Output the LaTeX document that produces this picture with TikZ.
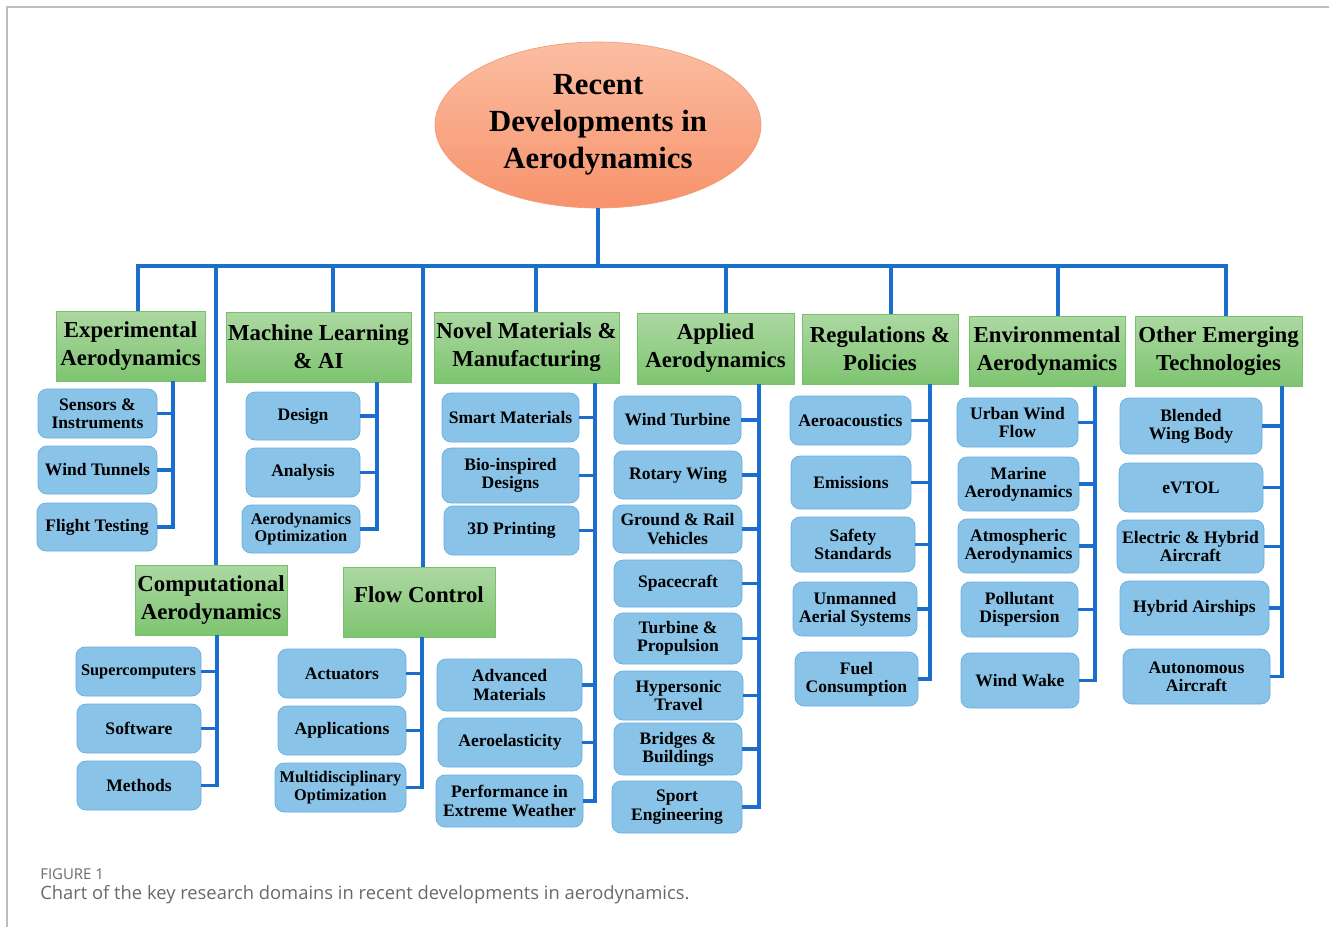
\documentclass[tikz,border=0pt]{standalone}
\usepackage{fontspec}
\setmainfont{Liberation Serif}
\newfontfamily\capfont{Open Sans}
\usetikzlibrary{shapes.geometric}

\definecolor{linkblue}{RGB}{28,110,205}
\definecolor{roottop}{RGB}{251,190,162}
\definecolor{rootbot}{RGB}{247,146,108}
\definecolor{rootline}{RGB}{242,156,118}
\definecolor{topictop}{RGB}{172,216,162}
\definecolor{topicbot}{RGB}{126,196,112}
\definecolor{topicline}{RGB}{118,194,104}
\definecolor{itemfill}{RGB}{137,195,232}
\definecolor{itemline}{RGB}{104,174,226}
\definecolor{framegray}{RGB}{190,190,190}
\definecolor{capgray}{RGB}{105,105,105}

\begin{document}
\begin{tikzpicture}[x=0.02cm, y=-0.02cm,
    root/.style={ellipse, draw=rootline, top color=roottop, bottom color=rootbot,
      inner sep=0pt, minimum width=6.52cm, minimum height=3.32cm, align=center,
      font=\bfseries\fontsize{17.5pt}{21pt}\selectfont},
    topic/.style={rectangle, draw=topicline, top color=topictop, bottom color=topicbot,
      inner sep=0pt, align=center, font=\bfseries\fontsize{13pt}{15.9pt}\selectfont},
    item/.style={rectangle, rounded corners=0.18cm, draw=itemline, fill=itemfill,
      inner sep=0pt, align=center, font=\bfseries\fontsize{10pt}{10.4pt}\selectfont},
    sm/.style={font=\bfseries\fontsize{9.3pt}{9.8pt}\selectfont},
    box/.style 2 args={minimum width=#1*0.02cm, minimum height=#2*0.02cm},
    link/.style={draw=linkblue, line width=2.2pt}]

  \useasboundingbox (0,0) rectangle (1329,927);
  \draw[framegray, line width=1.2pt] (1329,7) -- (7,7) -- (7,927);

  % root
  \node[root] (root) at (598,125) {Recent\\Developments in\\Aerodynamics};

  % research domains
  \node[topic, box={149}{70}] (exp)  at (130.5,346) {Experimental\\Aerodynamics};
  \node[topic, box={185}{70}] (ml)   at (318.5,347) {Machine Learning\\\& AI};
  \node[topic, box={185}{71}] (mat)  at (526.5,347.5) {Novel Materials \&\\Manufacturing};
  \node[topic, box={157}{71}] (app)  at (715.5,348.5) {Applied\\Aerodynamics};
  \node[topic, box={156}{70}] (reg)  at (880,349) {Regulations \&\\Policies};
  \node[topic, box={156}{70}] (env)  at (1047,351) {Environmental\\Aerodynamics};
  \node[topic, box={167}{70}] (oth)  at (1218.5,351) {Other Emerging\\Technologies};
  \node[topic, box={152}{70}] (cmp)  at (211,600) {Computational\\Aerodynamics};
  \node[topic, box={152}{70}, text depth=0.3cm] (flow) at (419,602) {Flow Control};

  % experimental
  \node[item, box={119}{49}] (sens) at (97.5,413.5) {Sensors \&\\Instruments};
  \node[item, box={119}{48}] (tun)  at (97.5,470) {Wind Tunnels};
  \node[item, box={120}{48}] (fly)  at (97,527) {Flight Testing};

  % machine learning
  \node[item, box={114}{48}] (des)  at (303,416) {Design};
  \node[item, box={114}{49}] (ana)  at (303,472.5) {Analysis};
  \node[item, sm, box={118}{48}] (aop) at (301,529) {Aerodynamics\\Optimization};

  % materials
  \node[item, box={137}{49}] (smart)  at (510.5,417.5) {Smart Materials};
  \node[item, box={137}{55}] (bio)    at (510.5,475.5) {Bio-inspired\\Designs};
  \node[item, box={135}{49}] (print)  at (511.5,530.5) {3D Printing};
  \node[item, box={145}{52}] (adv)    at (509.5,685) {Advanced\\Materials};
  \node[item, box={144}{49}] (aeroel) at (510,742.5) {Aeroelasticity};
  \node[item, box={147}{52}] (perf)   at (509.5,801) {Performance in\\Extreme Weather};

  % applied
  \node[item, box={127}{48}] (wt)  at (677.5,420) {Wind Turbine};
  \node[item, box={128}{48}] (rw)  at (678,475) {Rotary Wing};
  \node[item, box={129}{48}] (gr)  at (677.5,529) {Ground \& Rail\\Vehicles};
  \node[item, box={128}{47}] (sc)  at (678,583.5) {Spacecraft};
  \node[item, box={128}{51}] (tp)  at (678,638.5) {Turbine \&\\Propulsion};
  \node[item, box={129}{49}] (hyp) at (678.5,695.5) {Hypersonic\\Travel};
  \node[item, box={128}{52}] (brd) at (678,749) {Bridges \&\\Buildings};
  \node[item, box={130}{52}] (spt) at (677,807) {Sport\\Engineering};

  % regulations
  \node[item, box={121}{49}] (ac)   at (850.5,420.5) {Aeroacoustics};
  \node[item, box={120}{53}] (em)   at (851,482.5) {Emissions};
  \node[item, box={124}{55}] (saf)  at (853,544.5) {Safety\\Standards};
  \node[item, box={124}{54}] (uas)  at (855,609) {Unmanned\\Aerial Systems};
  \node[item, box={123}{54}] (fuel) at (856.5,679) {Fuel\\Consumption};

  % environmental
  \node[item, box={121}{49}] (urb)  at (1017.5,422.5) {Urban Wind\\Flow};
  \node[item, box={121}{54}] (mar)  at (1018.5,484) {Marine\\Aerodynamics};
  \node[item, box={121}{54}] (atm)  at (1018.5,546) {Atmospheric\\Aerodynamics};
  \node[item, box={117}{55}] (pol)  at (1019.5,609.5) {Pollutant\\Dispersion};
  \node[item, box={118}{55}] (wake) at (1020,680.5) {Wind Wake};

  % emerging
  \node[item, box={142}{56}] (bwb) at (1191,426) {Blended\\Wing Body};
  \node[item, box={144}{49}] (evt) at (1191,487.5) {eVTOL};
  \node[item, box={147}{53}] (ehy) at (1190.5,546.5) {Electric \& Hybrid\\Aircraft};
  \node[item, box={149}{54}] (ha)  at (1194.5,608) {Hybrid Airships};
  \node[item, box={147}{55}] (aut) at (1196.5,676.5) {Autonomous\\Aircraft};

  % computational
  \node[item, sm, box={125}{49}] (sup) at (138.5,671.5) {Supercomputers};
  \node[item, box={124}{49}] (sw)  at (139,728.5) {Software};
  \node[item, box={124}{49}] (met) at (139,785.5) {Methods};

  % flow control
  \node[item, box={128}{49}] (act)  at (342,673.5) {Actuators};
  \node[item, box={128}{49}] (appl) at (342,730.5) {Applications};
  \node[item, sm, box={131}{49}] (mdo) at (340.5,787.5) {Multidisciplinary\\Optimization};

  % trunk and bar
  \coordinate (bar) at (598,266);
  \draw[link] (root.south) -- (root.south |- bar);
  \draw[link] (138,0 |- exp.north) |- (bar) -| (1226,0 |- oth.north);
  \foreach \n/\x in {cmp/216, ml/333, flow/423, mat/536, app/726, reg/891, env/1058}
    \draw[link] (\x,0 |- bar) -- (\x,0 |- \n.north);

  % spines
  \draw[link] (173,0 |- exp.south) |- (fly.east);
  \foreach \n in {sens, tun}
    \draw[link] (\n.east) -- (173,0 |- \n.east);
  \draw[link] (377,0 |- ml.south) |- (aop.east);
  \foreach \n in {des, ana}
    \draw[link] (\n.east) -- (377,0 |- \n.east);
  \draw[link] (595,0 |- mat.south) |- (perf.east);
  \foreach \n in {smart, bio, print, adv, aeroel}
    \draw[link] (\n.east) -- (595,0 |- \n.east);
  \draw[link] (759,0 |- app.south) |- (spt.east);
  \foreach \n in {wt, rw, gr, sc, tp, hyp, brd}
    \draw[link] (\n.east) -- (759,0 |- \n.east);
  \draw[link] (930,0 |- reg.south) |- (fuel.east);
  \foreach \n in {ac, em, saf, uas}
    \draw[link] (\n.east) -- (930,0 |- \n.east);
  \draw[link] (1095,0 |- env.south) |- (wake.east);
  \foreach \n in {urb, mar, atm, pol}
    \draw[link] (\n.east) -- (1095,0 |- \n.east);
  \draw[link] (1282,0 |- oth.south) |- (aut.east);
  \foreach \n in {bwb, evt, ehy, ha}
    \draw[link] (\n.east) -- (1282,0 |- \n.east);
  \draw[link] (217,0 |- cmp.south) |- (met.east);
  \foreach \n in {sup, sw}
    \draw[link] (\n.east) -- (217,0 |- \n.east);
  \draw[link] (422,0 |- flow.south) |- (mdo.east);
  \foreach \n in {act, appl}
    \draw[link] (\n.east) -- (422,0 |- \n.east);

  % caption
  \node[anchor=base west, inner sep=0pt, text=capgray, font=\capfont\fontsize{8.5pt}{9pt}\selectfont] (figlabel) at (40,879) {FIGURE 1};
  \node[anchor=base west, inner sep=0pt, text=capgray, font=\capfont\fontsize{10.45pt}{12pt}\selectfont] (figcaption) at (40,899) {Chart of the key research domains in recent developments in aerodynamics.};
\end{tikzpicture}
\end{document}
